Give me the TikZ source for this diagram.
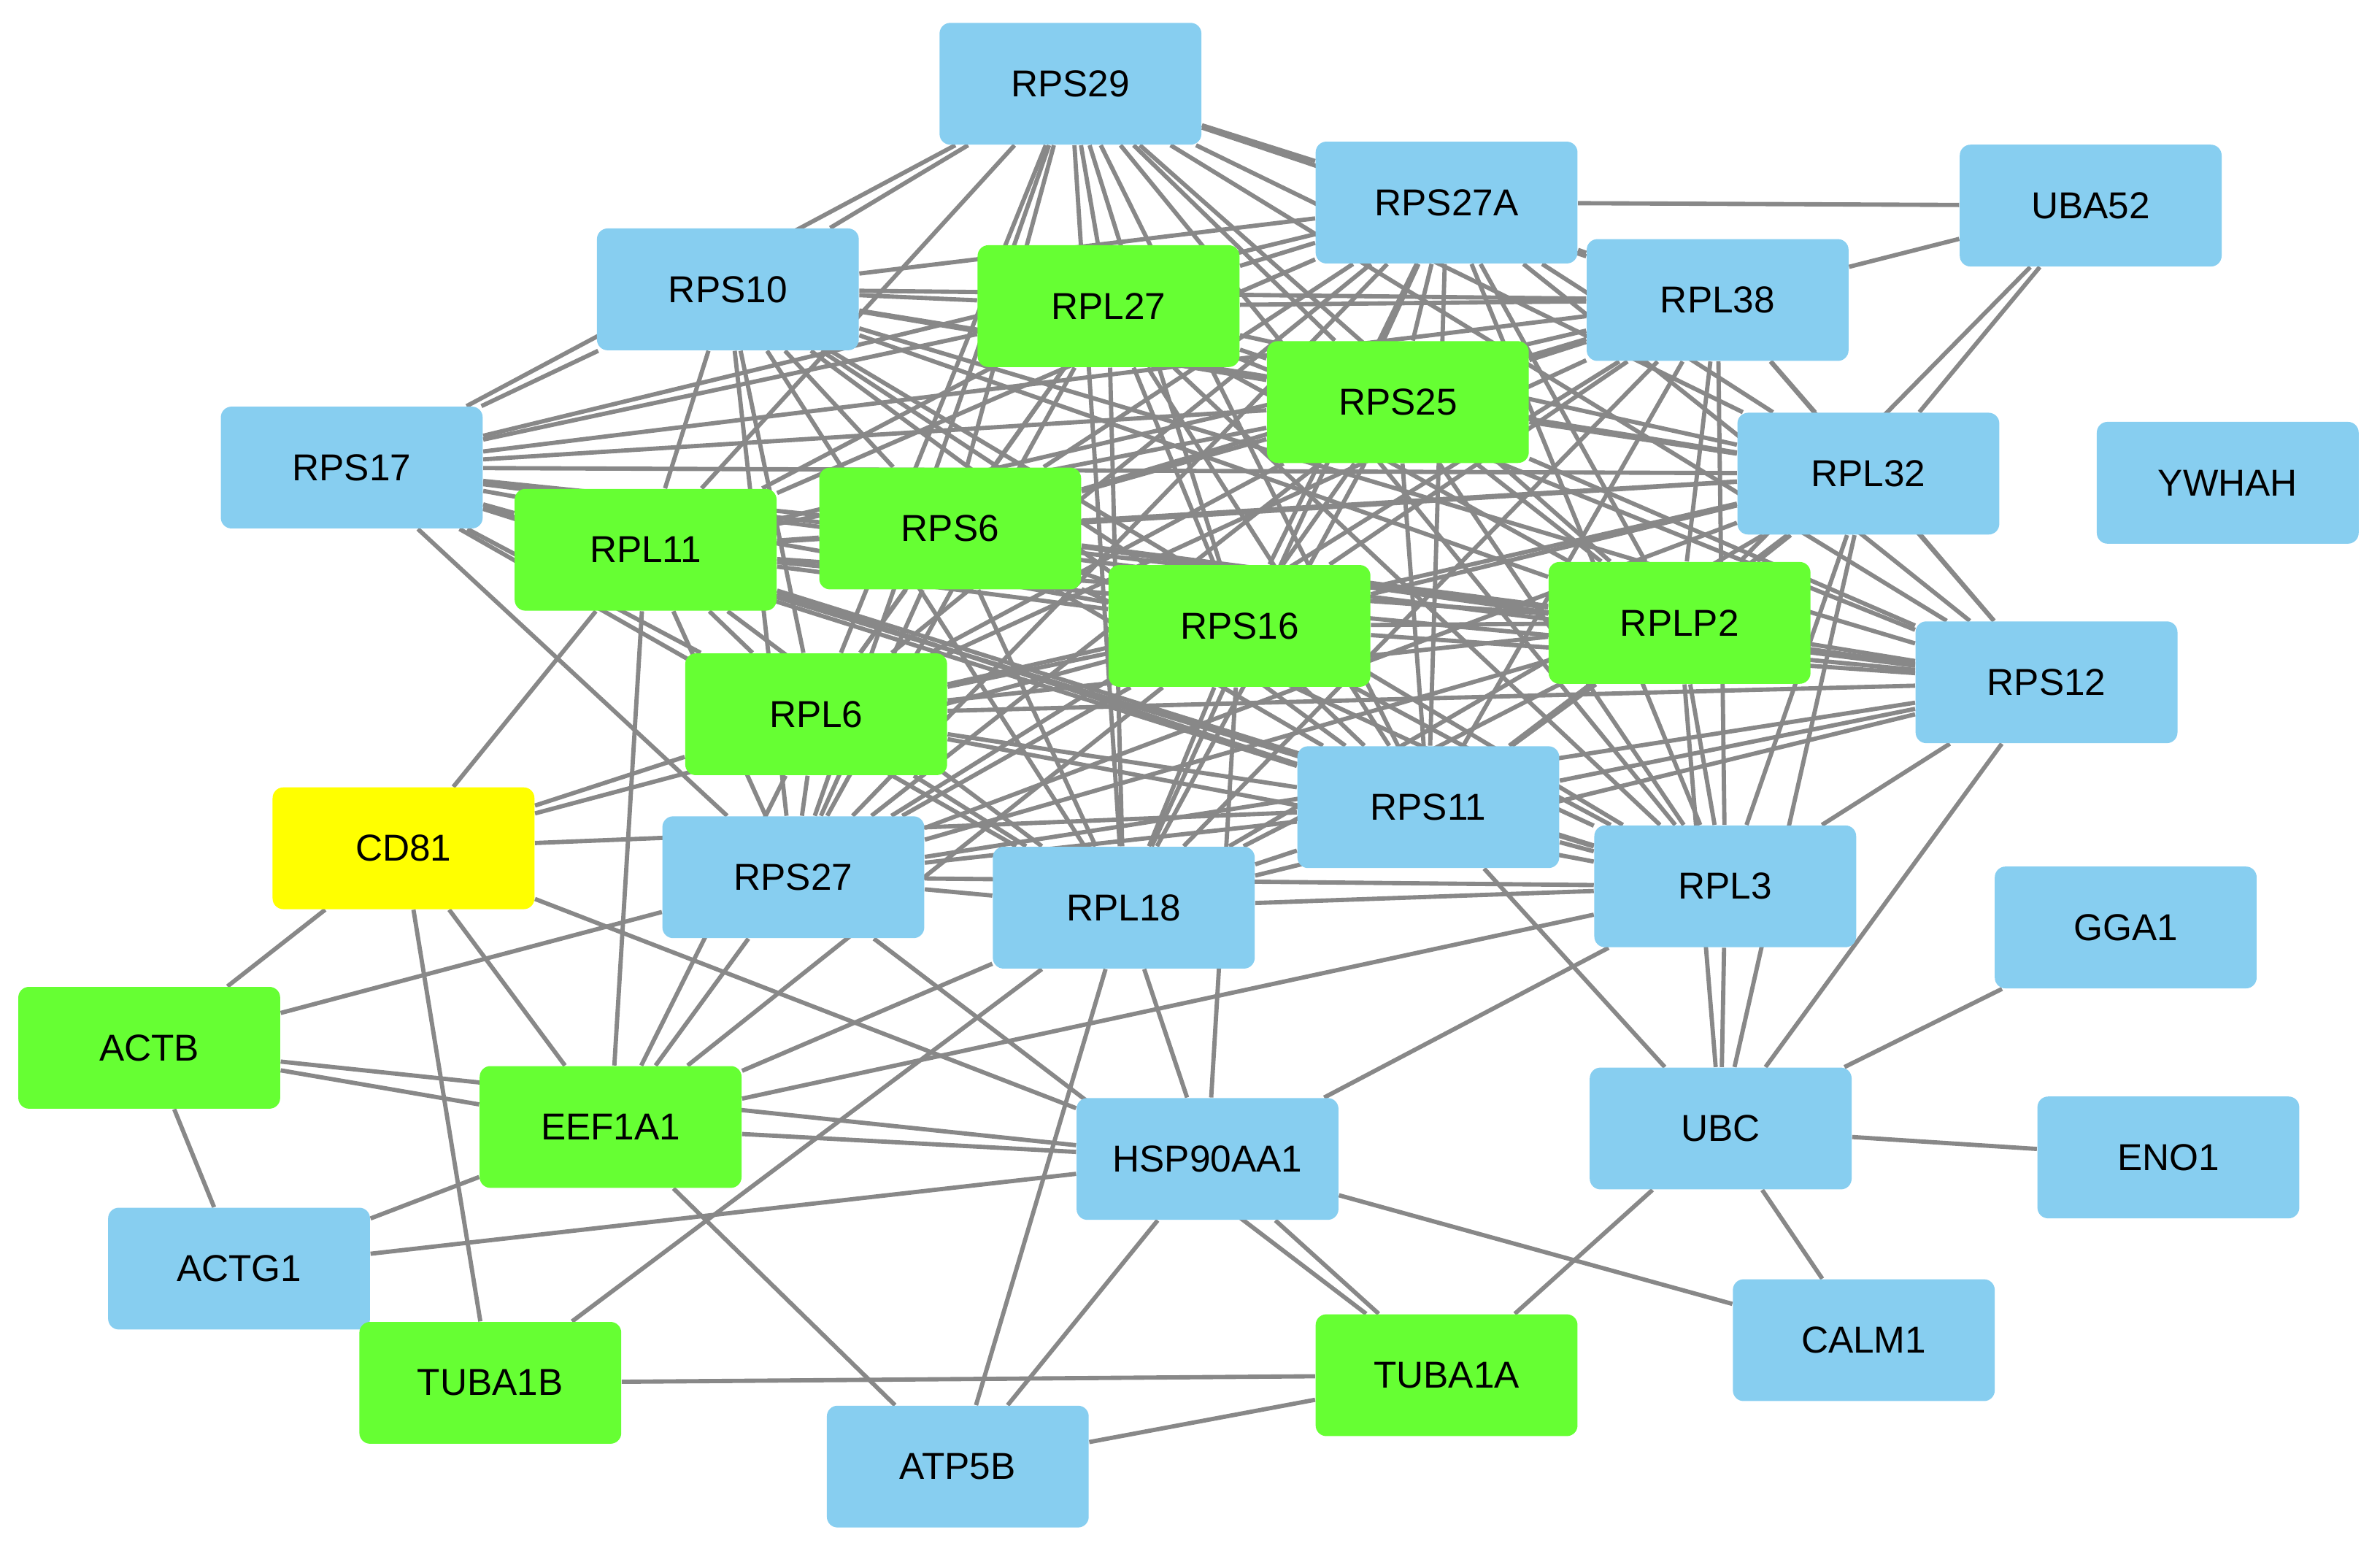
\documentclass[tikz,border=0pt]{standalone}
\usepackage{fontspec}
\setmainfont{Liberation Sans}
\usetikzlibrary{backgrounds}
\definecolor{protblue}{RGB}{135,206,240}
\definecolor{protgreen}{RGB}{102,255,51}
\definecolor{protyellow}{RGB}{255,255,0}
\definecolor{edgegray}{RGB}{136,136,136}
\tikzset{
  prot/.style={rectangle, rounded corners=4pt, minimum width=3.44cm, minimum height=1.6cm,
    font=\fontsize{14}{16}\selectfont, inner sep=0pt},
  bl/.style={prot, fill=protblue},
  gr/.style={prot, fill=protgreen},
  ye/.style={prot, fill=protyellow},
  link/.style={draw=edgegray, line width=1.6pt}
}
\begin{document}
\begin{tikzpicture}[x=0.02cm,y=-0.02cm]
\useasboundingbox (0,0) rectangle (1563,1015);
% proteins
\node[bl] (RPS29) at (703,55) {RPS29};
\node[bl] (RPS27A) at (950,133) {RPS27A};
\node[bl] (UBA52) at (1373,135) {UBA52};
\node[bl] (RPS10) at (478,190) {RPS10};
\node[gr] (RPL27) at (728,201) {RPL27};
\node[bl] (RPL38) at (1128,197) {RPL38};
\node[gr] (RPS25) at (918,264) {RPS25};
\node[bl] (RPS17) at (231,307) {RPS17};
\node[bl] (RPL32) at (1227,311) {RPL32};
\node[bl] (YWHAH) at (1463,317) {YWHAH};
\node[gr] (RPL11) at (424,361) {RPL11};
\node[gr] (RPS6) at (624,347) {RPS6};
\node[gr] (RPS16) at (814,411) {RPS16};
\node[gr] (RPLP2) at (1103,409) {RPLP2};
\node[bl] (RPS12) at (1344,448) {RPS12};
\node[gr] (RPL6) at (536,469) {RPL6};
\node[bl] (RPS11) at (938,530) {RPS11};
\node[ye] (CD81) at (265,557) {CD81};
\node[bl] (RPS27) at (521,576) {RPS27};
\node[bl] (RPL18) at (738,596) {RPL18};
\node[bl] (RPL3) at (1133,582) {RPL3};
\node[bl] (GGA1) at (1396,609) {GGA1};
\node[gr] (ACTB) at (98,688) {ACTB};
\node[gr] (EEF1A1) at (401,740) {EEF1A1};
\node[bl] (HSP90AA1) at (793,761) {HSP90AA1};
\node[bl] (UBC) at (1130,741) {UBC};
\node[bl] (ENO1) at (1424,760) {ENO1};
\node[bl] (ACTG1) at (157,833) {ACTG1};
\node[bl] (CALM1) at (1224,880) {CALM1};
\node[gr] (TUBA1B) at (322,908) {TUBA1B};
\node[gr] (TUBA1A) at (950,903) {TUBA1A};
\node[bl] (ATP5B) at (629,963) {ATP5B};
% interactions
\begin{pgfonlayer}{background}
\foreach \a [count=\i] in {RPS29,RPS27A,RPS10,RPL27,RPL38,RPS25,RPS17,RPL32,RPL11,RPS6,RPS16,RPLP2,RPS12,RPL6,RPS11,RPS27,RPL18,RPL3}
  \foreach \b [count=\j] in {RPS29,RPS27A,RPS10,RPL27,RPL38,RPS25,RPS17,RPL32,RPL11,RPS6,RPS16,RPLP2,RPS12,RPL6,RPS11,RPS27,RPL18,RPL3}
    {\ifnum\j>\i \draw[link] (\a) -- (\b); \fi}
\foreach \a/\b in {UBA52/RPS27A, UBA52/RPL38, UBA52/RPL32, UBA52/RPLP2,
  CD81/RPL11, CD81/RPL6, CD81/RPS16, CD81/RPS11, CD81/EEF1A1, CD81/TUBA1B,
  CD81/ACTB, CD81/HSP90AA1,
  ACTB/ACTG1, ACTB/EEF1A1, ACTB/HSP90AA1, ACTB/RPS27,
  ACTG1/EEF1A1, ACTG1/HSP90AA1,
  EEF1A1/RPL11, EEF1A1/RPL6, EEF1A1/RPS27, EEF1A1/RPL18, EEF1A1/RPL3,
  EEF1A1/HSP90AA1, EEF1A1/ATP5B, EEF1A1/RPS16,
  TUBA1B/TUBA1A, TUBA1B/RPL18,
  TUBA1A/ATP5B, TUBA1A/HSP90AA1, TUBA1A/UBC, TUBA1A/RPS27,
  ATP5B/HSP90AA1, ATP5B/RPL18,
  HSP90AA1/RPL18, HSP90AA1/RPS16, HSP90AA1/RPL3, HSP90AA1/CALM1,
  UBC/RPL3, UBC/RPL32, UBC/RPS12, UBC/RPS11, UBC/GGA1, UBC/ENO1,
  UBC/CALM1, UBC/RPLP2}
  \draw[link] (\a) -- (\b);
\end{pgfonlayer}
\end{tikzpicture}
\end{document}
